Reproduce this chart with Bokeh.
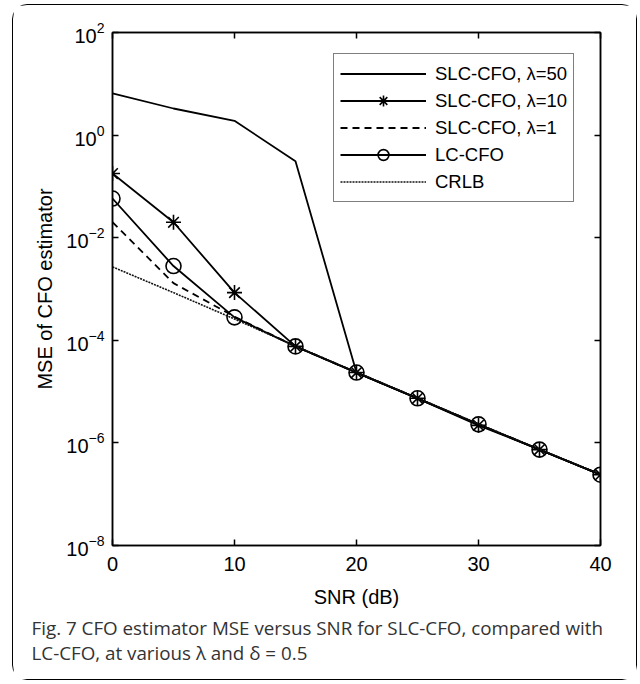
from bokeh.plotting import figure
from bokeh.models import (FixedTicker, LinearAxis, LogAxis, Legend, LegendItem, Title)
from bokeh.embed import file_html
from bokeh.resources import INLINE

snr = [0, 5, 10, 15, 20, 25, 30, 35, 40]
slc_50 = [6.5, 3.3, 1.9, 0.31, 2.35e-5, 7.4e-6, 2.3e-6, 7.4e-7, 2.4e-7]
slc_10 = [0.178, 0.02, 8.5e-4, 7.6e-5, 2.35e-5, 7.4e-6, 2.2e-6, 7.4e-7, 2.4e-7]
slc_1 = [0.02, 1.3e-3, 2.9e-4, 7.6e-5, 2.35e-5, 7.4e-6, 2.3e-6, 7.4e-7, 2.4e-7]
lc_cfo = [0.058, 0.0028, 2.8e-4, 7.6e-5, 2.35e-5, 7.4e-6, 2.3e-6, 7.4e-7, 2.4e-7]
crlb = [0.0027, 8.5e-4, 2.6e-4, 7.7e-5, 2.4e-5, 7.5e-6, 2.35e-6, 7.5e-7, 2.45e-7]

x_ticks = [0, 10, 20, 30, 40]
y_ticks = [1e-8, 1e-6, 1e-4, 1e-2, 1, 1e2]

labels = ["SLC-CFO, \u03bb=50", "SLC-CFO, \u03bb=10", "SLC-CFO, \u03bb=1", "LC-CFO", "CRLB"]
x_title = "SNR (dB)"
y_title = "MSE of CFO estimator"
cap_bold = "Fig. 7"
cap_1 = "CFO estimator MSE versus SNR for SLC-CFO, compared with"
cap_2 = "LC-CFO, at various \u03bb and \u03b4 = 0.5"

FONT = "Liberation Sans"
W, H = 623, 674
BL, BT, FW, FH = 99, 27, 488, 513

p = figure(width=W, height=H, frame_width=FW, frame_height=FH,
           min_border_left=BL, min_border_right=W - BL - FW, min_border_top=BT,
           min_border_bottom=H - BT - FH, y_axis_type="log",
           x_range=(0, 40), y_range=(1e-8, 1e2),
           output_backend="svg", toolbar_location=None,
           margin=(4, 0, 0, 12),
           styles={"border": "1.5px solid black", "border-radius": "15px"})
p.xgrid.visible = False
p.ygrid.visible = False
p.outline_line_color = "black"
p.outline_line_width = 1.5

def style_axis(ax, show_labels):
    ax.axis_line_width = 1.5
    ax.major_tick_in = 6
    ax.major_tick_out = 0
    ax.major_tick_line_width = 1.5
    ax.minor_tick_line_color = None
    ax.major_label_text_font = FONT
    if show_labels:
        ax.major_label_text_font_size = "20px"
        ax.major_label_text_color = "black"
    else:
        ax.major_label_text_font_size = "8px"
        ax.major_label_text_color = None
        ax.major_label_standoff = 0
    ax.axis_label_text_font = FONT
    ax.axis_label_text_font_size = "20px"
    ax.axis_label_text_font_style = "normal"
    ax.axis_label_text_color = "black"

p.xaxis.ticker = FixedTicker(ticks=x_ticks)
p.yaxis.ticker = FixedTicker(ticks=y_ticks)
style_axis(p.xaxis[0], True)
style_axis(p.yaxis[0], True)
p.xaxis.axis_label = x_title
p.yaxis.axis_label = y_title
p.xaxis.major_label_standoff = 11
p.yaxis.major_label_standoff = 8
p.xaxis.axis_label_standoff = 12
p.yaxis.axis_label_standoff = 7

top_ax = LinearAxis(ticker=FixedTicker(ticks=x_ticks))
style_axis(top_ax, False)
p.add_layout(top_ax, "above")
right_ax = LogAxis(ticker=FixedTicker(ticks=y_ticks))
style_axis(right_ax, False)
p.add_layout(right_ax, "right")

LW = 1.8
r50 = p.line(snr, slc_50, line_color="black", line_width=LW)
r10 = p.line(snr, slc_10, line_color="black", line_width=LW)
s10 = p.scatter(snr, slc_10, marker="asterisk", size=15, line_color="black", line_width=1.6)
r1 = p.line(snr, slc_1, line_color="black", line_width=LW, line_dash="7 5")
rlc = p.line(snr, lc_cfo, line_color="black", line_width=LW)
slc = p.scatter(snr, lc_cfo, marker="circle", size=15, line_color="black",
                fill_color=None, line_width=1.6)
rcr = p.line(snr, crlb, line_color="#111111", line_width=1.6, line_dash="2 1")

legend = Legend(items=[
    LegendItem(label=labels[0], renderers=[r50]),
    LegendItem(label=labels[1], renderers=[r10, s10]),
    LegendItem(label=labels[2], renderers=[r1]),
    LegendItem(label=labels[3], renderers=[rlc, slc]),
    LegendItem(label=labels[4], renderers=[rcr]),
])
legend.location = (221, 343)
legend.margin = 0
legend.padding = 6
legend.spacing = 0
legend.glyph_width = 86
legend.glyph_height = 27
legend.label_height = 21
legend.label_standoff = 9
legend.label_text_font = FONT
legend.label_text_font_size = "18.5px"
legend.label_text_color = "black"
legend.border_line_color = "black"
legend.border_line_width = 1.5
legend.background_fill_alpha = 1.0
p.add_layout(legend, "center")

CAP_FONT = "Open Sans"
t1 = Title(text=cap_bold + " " + cap_1, align="left", offset=-81, standoff=4,
           text_font=CAP_FONT, text_font_size="18.8px", text_font_style="normal",
           text_color="#333333")
t2 = Title(text=cap_2, align="left", offset=-81, standoff=-9,
           text_font=CAP_FONT, text_font_size="18.8px", text_font_style="normal",
           text_color="#333333")
p.add_layout(t1, "below")
p.add_layout(t2, "below")

open("out.html", "w").write(file_html(p, INLINE))
